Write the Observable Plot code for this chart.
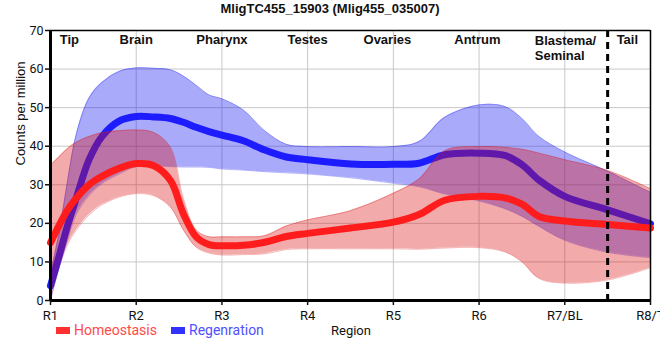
<!DOCTYPE html>
<html>
<head>
<meta charset="utf-8">
<script src="https://cdn.jsdelivr.net/npm/d3@7"></script>
<script src="https://cdn.jsdelivr.net/npm/@observablehq/plot@0.6"></script>
<style>
  html, body { margin: 0; padding: 0; background: white; }
  #wrap { position: relative; width: 660px; height: 360px; overflow: hidden; }
  #title { position: absolute; left: 0; width: 660px; top: 1px; text-align: center;
           font: bold 13px "Liberation Sans", Arial, sans-serif; color: #111; }
  .leg { position: absolute; top: 322px; font: 14px Roboto, sans-serif; white-space: nowrap; }
  .sw { position: absolute; width: 14px; height: 7px; top: 327px; }
</style>
</head>
<body>
<div id="wrap">
  <div id="chart"></div>
  <div id="title"></div>
  <div class="sw" style="left:56px;background:#ff3030"></div>
  <div class="leg" id="legA" style="left:74px;color:#ff4a4a"></div>
  <div class="sw" style="left:171px;background:#3232ff"></div>
  <div class="leg" id="legB" style="left:189px;color:#5050ff"></div>
  <div class="leg" id="legX" style="left:331px;color:#111;font-size:13px;top:323px"></div>
</div>
<script>
const titleText = "MligTC455_15903 (Mlig455_035007)";
const xLabels = ["R1", "R2", "R3", "R4", "R5", "R6", "R7/BL", "R8/T"];
const yTicks = [0, 10, 20, 30, 40, 50, 60, 70];
const regionNames = ["Tip", "Brain", "Pharynx", "Testes", "Ovaries", "Antrum", "Tail"];
const regionPos = [0.22, 1, 2, 3, 3.93, 4.98, 6.73];
const region2Name = ["Blastema/\nSeminal"];
const region2Pos = [5.65];
const seriesNames = ["Homeostasis", "Regenration"];
const xTitle = "Region";
const yTitle = "Counts per million";
const dividerPos = [6.5];

// sample positions along the x axis (R1 = 0 ... R8/T = 7)
const pos      = [0, 0.1, 0.2, 0.3, 0.45, 0.6, 0.8, 1, 1.2, 1.4, 1.55, 1.7, 1.85, 2, 2.25, 2.5, 2.75, 3, 3.5, 4, 4.3, 4.6, 5, 5.3, 5.5, 5.7, 6, 6.5, 7];
const homeMid  = [15, 19.5, 23.5, 26.5, 30, 32.2, 34.3, 35.5, 35.0, 31.1, 22.5, 16.5, 14.5, 14.2, 14.3, 15.1, 16.6, 17.4, 18.8, 20.3, 22.3, 26.0, 27.0, 26.6, 25.0, 21.8, 20.6, 19.7, 18.8];
const homeHi   = [35, 37.3, 39.4, 41.0, 42.5, 43.5, 44.0, 44.2, 43.6, 39.7, 26.5, 18.3, 16.5, 16.5, 16.5, 16.8, 19.3, 20.9, 23.3, 27.8, 31.5, 38.8, 39.9, 39.7, 39.2, 38.2, 36.5, 33.7, 29.0];
const homeLo   = [0.3, 8.5, 14.5, 18.2, 22.2, 24.8, 26.8, 27.7, 27.2, 24.2, 18.3, 13.8, 12.3, 11.8, 11.9, 12.1, 13.2, 13.4, 13.4, 13.4, 13.3, 13.6, 13.7, 12.6, 10.0, 5.7, 4.5, 5.3, 8.5];
const regenMid = [3.8, 11.5, 19.5, 26.5, 36.5, 42.5, 46.5, 47.7, 47.6, 47.2, 46.2, 44.9, 43.8, 42.9, 41.4, 39.0, 37.2, 36.5, 35.4, 35.3, 35.6, 37.8, 38.2, 37.6, 35.2, 31.2, 27.0, 23.5, 19.9];
const regenHi  = [7, 17.5, 31, 43, 52.5, 56.5, 59.4, 60.3, 60.2, 59.8, 58.2, 55.8, 53.3, 52.3, 49.4, 44, 40.5, 39.9, 39.9, 39.9, 41.2, 47.5, 50.7, 50.3, 47.2, 42.5, 38.5, 33.5, 28.0];
const regenLo  = [0, 8.5, 15.7, 22.3, 27.2, 30.3, 32.8, 34.7, 34.9, 34.7, 34.6, 34.6, 34.5, 34.1, 33.8, 33.4, 33.1, 32.8, 31.8, 30.4, 29.5, 27.6, 25.8, 23.8, 21.8, 19.2, 15.6, 12.5, 11.1];

const home = pos.map((p, i) => ({x: p, y: homeMid[i], lo: homeLo[i], hi: homeHi[i]}));
const regen = pos.map((p, i) => ({x: p, y: regenMid[i], lo: regenLo[i], hi: regenHi[i]}));

const curve = "catmull-rom";
const redBand = "rgb(220,20,20)", blueBand = "rgb(20,20,240)";

const chart = Plot.plot({
  width: 660, height: 360,
  marginTop: 30, marginBottom: 60, marginLeft: 50, marginRight: 10,
  x: {domain: [0, 7]},
  y: {domain: [0, 70]},
  style: {fontFamily: "Roboto, sans-serif", fontSize: "12.5px", color: "#111", background: "white", overflow: "hidden"},
  marks: [
    Plot.gridX(d3.range(xLabels.length), {stroke: "#c8c8c8", strokeOpacity: 1}),
    Plot.gridY(yTicks, {stroke: "#c8c8c8", strokeOpacity: 1}),
    Plot.areaY(regen, {x: "x", y1: "lo", y2: "hi", fill: blueBand, fillOpacity: 0.36, curve}),
    Plot.line(regen, {x: "x", y: "lo", stroke: blueBand, strokeOpacity: 0.3, strokeWidth: 1, curve}),
    Plot.line(regen, {x: "x", y: "hi", stroke: blueBand, strokeOpacity: 0.3, strokeWidth: 1, curve}),
    Plot.line(regen, {x: "x", y: "y", stroke: "#1c1cff", strokeWidth: 7, curve}),
    Plot.areaY(home, {x: "x", y1: "lo", y2: "hi", fill: redBand, fillOpacity: 0.36, curve}),
    Plot.line(home, {x: "x", y: "lo", stroke: redBand, strokeOpacity: 0.3, strokeWidth: 1, curve}),
    Plot.line(home, {x: "x", y: "hi", stroke: redBand, strokeOpacity: 0.3, strokeWidth: 1, curve}),
    Plot.line(home, {x: "x", y: "y", stroke: "#ff1c1c", strokeWidth: 7, curve}),
    Plot.ruleX(dividerPos, {stroke: "black", strokeWidth: 3, strokeDasharray: "7,5"}),
    Plot.ruleY([70], {stroke: "black", strokeWidth: 1.5}),
    Plot.ruleX([7], {stroke: "black", strokeWidth: 1.5}),
    Plot.ruleY([0], {stroke: "black", strokeWidth: 3}),
    Plot.ruleX([0], {stroke: "black", strokeWidth: 3}),
    Plot.axisX(d3.range(xLabels.length), {tickFormat: i => xLabels[i], tickSize: 5, tickPadding: 5, strokeWidth: 1.5, fontSize: 13, label: null}),
    Plot.axisY(yTicks, {tickSize: 5, tickPadding: 2, strokeWidth: 1.5, label: null}),
    Plot.text([yTitle], {frameAnchor: "left", rotate: -90, dx: -30, fontFamily: "'Liberation Sans', Arial, sans-serif", fontSize: 13}),
    Plot.text(regionNames, {x: regionPos, text: d => d, frameAnchor: "top", lineAnchor: "top", dy: 4,
      fontFamily: "'Liberation Sans', Arial, sans-serif", fontWeight: "bold", fontSize: 13, fill: "#111"}),
    Plot.text(region2Name, {x: region2Pos, text: d => d, frameAnchor: "top", lineAnchor: "top", dy: 4, textAnchor: "start", lineHeight: 1.15,
      fontFamily: "'Liberation Sans', Arial, sans-serif", fontWeight: "bold", fontSize: 13, fill: "#111"})
  ]
});
document.getElementById("chart").appendChild(chart);
document.getElementById("title").textContent = titleText;
document.getElementById("legA").textContent = seriesNames[0];
document.getElementById("legB").textContent = seriesNames[1];
document.getElementById("legX").textContent = xTitle;
</script>
</body>
</html>
